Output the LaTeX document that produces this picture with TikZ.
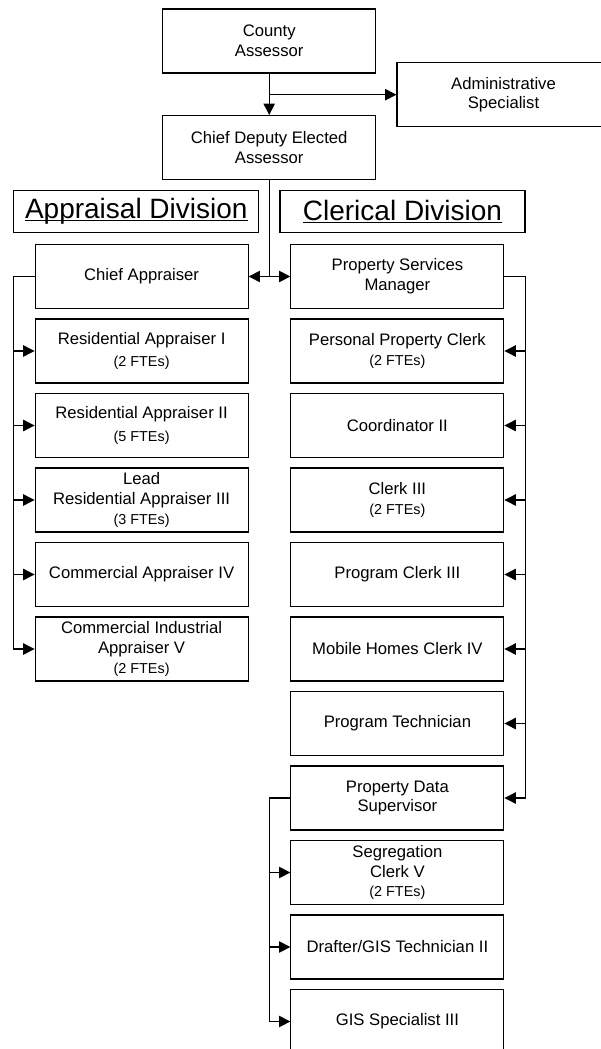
\documentclass[tikz,border=0pt]{standalone}
\usepackage{fontspec}
\setmainfont{Liberation Sans}
\usetikzlibrary{arrows.meta}
% underline drawn just under the baseline, across descenders
\newcommand\baseul[1]{{\setbox0\hbox{#1}\rlap{\rule[-1.6pt]{\wd0}{0.9pt}}\box0}}
\begin{document}
\begin{tikzpicture}[x=0.75pt,y=-0.75pt,
  box/.style={draw, line width=0.8pt, minimum width=159.75pt, minimum height=48pt,
    inner sep=0pt, align=center, font=\fontsize{12.5}{14.8}\selectfont},
  divbox/.style={draw, line width=0.8pt, minimum width=183.75pt, minimum height=31.5pt,
    inner sep=0pt, font=\fontsize{21}{24}\selectfont},
  link/.style={line width=0.8pt},
  arr/.style={link, -{Triangle[length=8.5pt,width=8.5pt]}}
]
\newcommand\ftes[1]{{\fontsize{10.8}{13}\selectfont (#1 FTEs)}}
\fill[white] (0,0) rectangle (600,1049);
\useasboundingbox (0,0) rectangle (600,1049);

% top of the chart
\node[box] (county) at (269.2,41)    {County\\Assessor};
\node[box] (admin)  at (503.5,94.7)  {Administrative\\Specialist};
\node[box] (cd)     at (269.2,147.5) {Chief Deputy Elected\\Assessor};

% division headings
\node[divbox] (appdiv) at (136.3,211.7) {\baseul{Appraisal Division}};
\node[divbox] (cledv)  at (402.5,211.7) {\baseul{Clerical Division}};

% appraisal division
\node[box] (ca)  at (141.6,276.5) {Chief Appraiser};
\node[box] (ra1) at (141.6,351)   {Residential Appraiser I\\[2pt]\ftes{2}};
\node[box] (ra2) at (141.6,425.5) {Residential Appraiser II\\[2pt]\ftes{5}};
\node[box] (lra) at (141.6,500)   {Lead\\Residential Appraiser III\\\ftes{3}};
\node[box] (ca4) at (141.6,574.5) {Commercial Appraiser IV};
\node[box] (cia) at (141.6,649)   {Commercial Industrial\\Appraiser V\\\ftes{2}};

% clerical division
\node[box] (psm)    at (397.4,276.5)  {Property Services\\Manager};
\node[box] (ppc)    at (397.4,351)    {Personal Property Clerk\\\ftes{2}};
\node[box] (coord)  at (397.4,425.5)  {Coordinator II};
\node[box] (clerk)  at (397.4,500)    {Clerk III\\\ftes{2}};
\node[box] (pclerk) at (397.4,574.5)  {Program Clerk III};
\node[box] (mhc)    at (397.4,649)    {Mobile Homes Clerk IV};
\node[box] (ptech)  at (397.4,723.5)  {Program Technician};
\node[box] (pds)    at (397.4,798)    {Property Data\\Supervisor};
\node[box] (seg)    at (397.4,872.5)  {Segregation\\Clerk V\\\ftes{2}};
\node[box] (draft)  at (397.4,947)    {Drafter/GIS Technician II};
\node[box] (gis)    at (397.4,1021.5) {GIS Specialist III};

% executive links
\draw[arr] (county.south) -- (cd.north);
\draw[arr] (county.south |- admin.west) -- (admin.west);
\draw[link] (cd.south) -- (cd.south |- ca.east);
\draw[arr] (cd.south |- ca.east) -- (ca.east);
\draw[arr] (cd.south |- psm.west) -- (psm.west);

% appraisal bus
\draw[link] (ca.west) -- (appdiv.west |- ca.west) -- (appdiv.west |- cia.west);
\foreach \n in {ra1,ra2,lra,ca4,cia}
  \draw[arr] (appdiv.west |- \n.west) -- (\n.west);

% clerical bus
\draw[link] (psm.east) -- (cledv.east |- psm.east) -- (cledv.east |- pds.east);
\foreach \n in {ppc,coord,clerk,pclerk,mhc,ptech,pds}
  \draw[arr] (cledv.east |- \n.east) -- (\n.east);

% property data bus
\draw[link] (pds.west) -- (cd.south |- pds.west) -- (cd.south |- gis.west);
\foreach \n in {seg,draft,gis}
  \draw[arr] (cd.south |- \n.west) -- (\n.west);
\end{tikzpicture}
\end{document}
